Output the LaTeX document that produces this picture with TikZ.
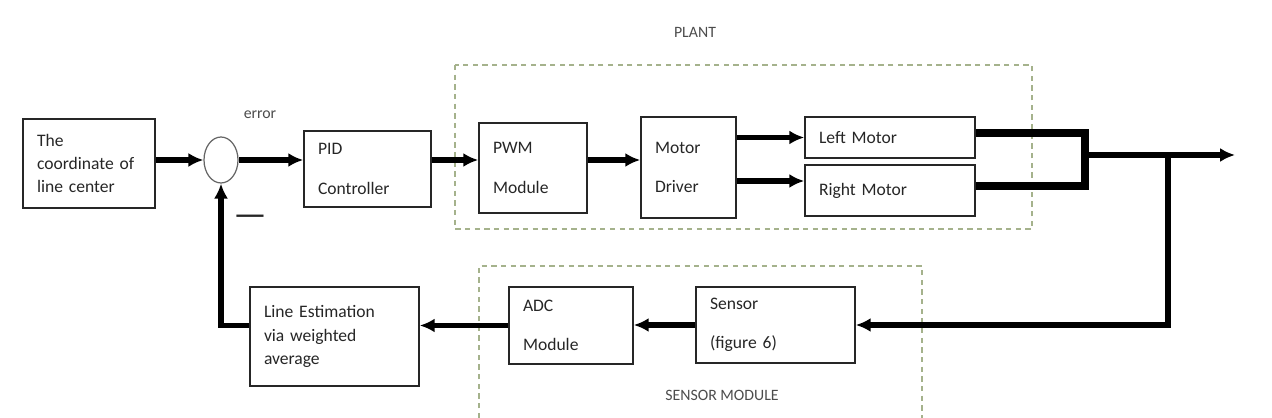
\documentclass[tikz,border=0pt]{standalone}
\usepackage{fontspec}
\setmainfont{Carlito}
\usetikzlibrary{arrows.meta,shapes.geometric}

\definecolor{grn}{RGB}{165,178,140}

\begin{document}
\begin{tikzpicture}[>={Latex[length=8.5pt,width=8pt]},x=0.02cm,y=-0.02cm]

\tikzset{
	blk/.style={draw=black!85,line width=0.9pt,align=left,inner xsep=0.28cm,inner ysep=0pt,
		font=\fontsize{10}{13.3}\selectfont,text=black!85},
	sig/.style={->,line width=3pt},
	bus/.style={line width=4pt},
	grp/.style={draw=grn,line width=0.6pt,dash pattern=on 3pt off 2.5pt},
	lbl/.style={font=\fontsize{9}{11}\selectfont,text=black!70}
}

\useasboundingbox (0,0) rectangle (1272,418);

% dashed groups
\draw[grp] (455,65) rectangle (1032,229);
\draw[grp] (479,418) |- (922,266) -- (922,418);
\node[lbl] (plant) at (695,32) {PLANT};
\node[lbl] (sensmod) at (722,395) {SENSOR MODULE};

% blocks
\node[blk,text width=2.08cm,minimum height=1.78cm] (inp) at (89,163.5) {The\\coordinate of\\line center};
\node[draw=black!60,line width=0.7pt,ellipse,minimum width=0.68cm,minimum height=0.92cm,inner sep=0pt] (sum) at (221,160) {};
\node[lbl] (err) at (260,115) {error};
\node[font=\fontsize{21}{21}\selectfont,text=black!85] (neg) at (250,221) {---};
\node[blk,text width=1.98cm,minimum height=1.52cm] (pid) at (367.5,169) {PID\\[9pt]Controller};
\node[blk,text width=1.6cm,minimum height=1.8cm] (pwm) at (533,168) {PWM\\[9pt]Module};
\node[blk,text width=1.34cm,minimum height=2.02cm] (drv) at (688.5,167.5) {Motor\\[9pt]Driver};
\node[blk,text width=2.84cm,minimum height=0.82cm] (lm) at (890,137.5) {Left Motor};
\node[blk,text width=2.84cm,minimum height=1.02cm] (rm) at (890,190.5) {Right Motor};
\node[blk,text width=2.62cm,minimum height=1.52cm] (sen) at (775.5,325) {Sensor\\[9pt](figure 6)};
\node[blk,text width=1.92cm,minimum height=1.54cm] (adc) at (571,325.5) {ADC\\[9pt]Module};
\node[blk,text width=2.82cm,minimum height=1.98cm] (est) at (334.5,336.5) {Line Estimation\\via weighted\\average};

\coordinate (j) at (1085,155);
\coordinate (br) at (1168,155);
\coordinate (out) at (1235,155);

% forward path
\draw[sig] (inp.east |- sum) -- (sum.west);
\draw[sig] (sum.east) -- (pid.west |- sum);
\draw[sig] (pid.east |- sum) -- (pwm.west |- sum);
\draw[sig] (pwm.east |- sum) -- (drv.west |- sum);
\draw[sig] (drv.east |- lm) -- (lm.west);
\draw[sig] (drv.east |- 0,181) -- (rm.west |- 0,181);
\draw[bus] (lm.east |- 0,133) -| (j |- 0,186) -- (rm.east |- 0,186);
\draw[sig] (j) -- (out);

% feedback path
\draw[sig] (br) |- (sen.east);
\draw[sig] (sen.west) -- (adc.east |- sen.west);
\draw[sig] (adc.west) -- (est.east |- adc.west);
\draw[sig] (est.west |- adc.west) -| (sum.south);

\end{tikzpicture}
\end{document}
